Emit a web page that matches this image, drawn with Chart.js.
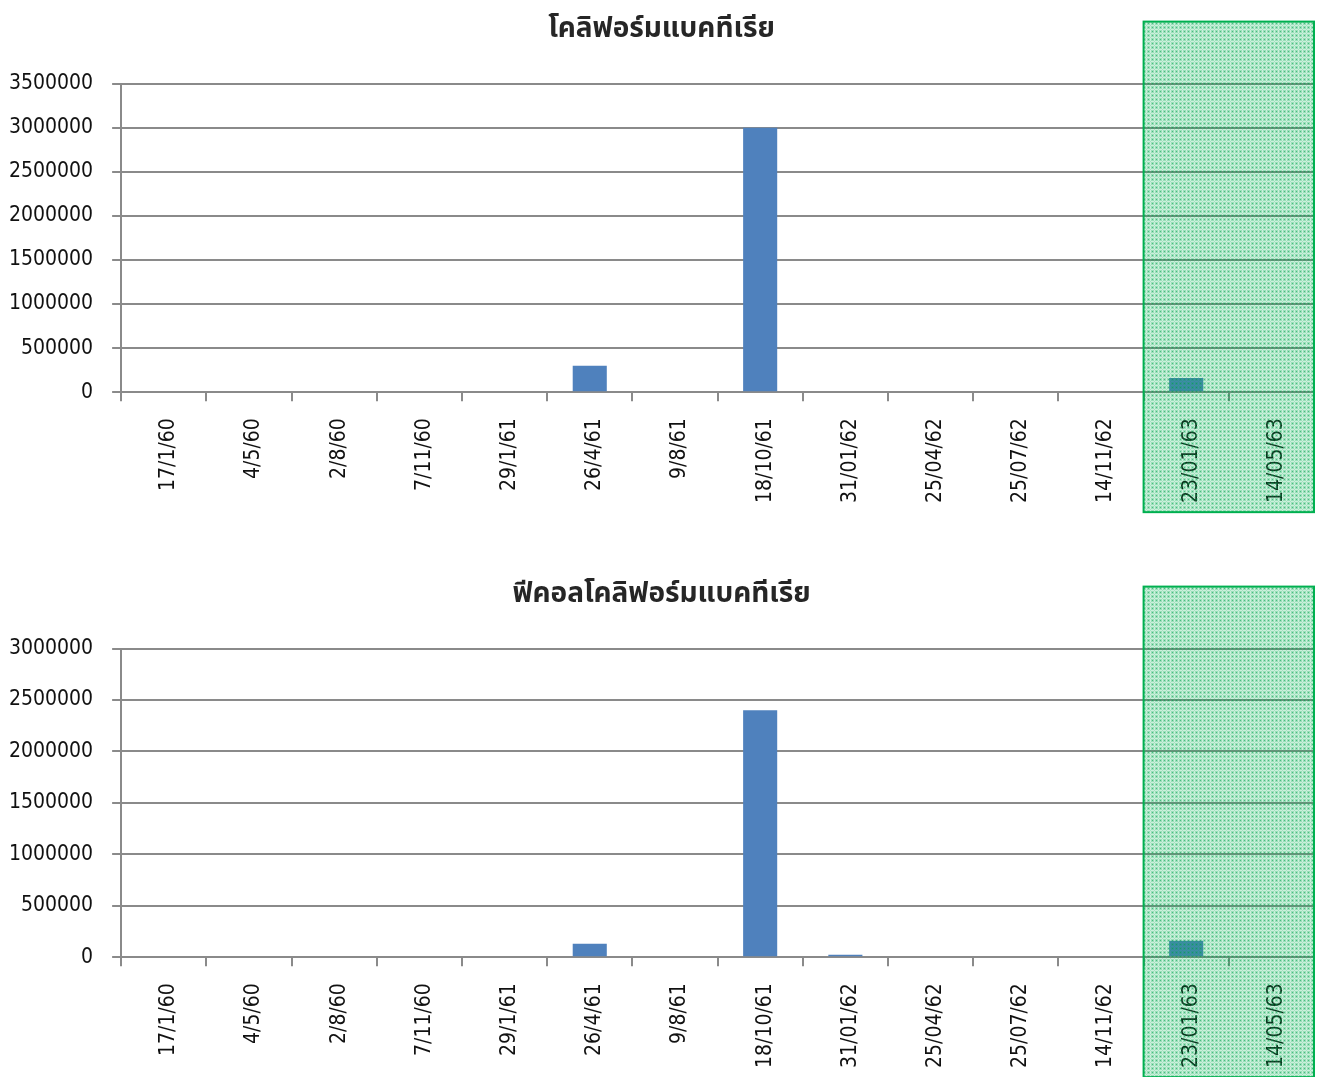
<!DOCTYPE html>
<html>
<head>
<meta charset="utf-8">
<script src="https://cdn.jsdelivr.net/npm/chart.js@4/dist/chart.umd.min.js"></script>
<style>
  html, body { margin: 0; padding: 0; background: #fff; overflow: hidden; }
  .panel { position: absolute; left: 0; width: 1322px; height: 565px; }
  #p1 { top: 0; }
  #p2 { top: 565px; }
</style>
</head>
<body>
<div class="panel" id="p1"><canvas id="c1"></canvas></div>
<div class="panel" id="p2"><canvas id="c2"></canvas></div>
<script>
// Sampling dates (Thai Buddhist-era short years)
const dates = ['17/1/60', '4/5/60', '2/8/60', '7/11/60', '29/1/61', '26/4/61', '9/8/61',
               '18/10/61', '31/01/62', '25/04/62', '25/07/62', '14/11/62', '23/01/63', '14/05/63'];

// Total coliform bacteria (MPN/100 ml)
const totalColiform = [0, 0, 0, 0, 0, 300000, 0, 3000000, 11000, 0, 0, 0, 160000, 0];
// Fecal coliform bacteria (MPN/100 ml)
const fecalColiform = [0, 9000, 0, 0, 0, 130000, 0, 2400000, 24000, 0, 0, 0, 160000, 0];

const titleTotal = 'โคลิฟอร์มแบคทีเรีย';
const titleFecal = 'ฟีคอลโคลิฟอร์มแบคทีเรีย';

const yMaxTotal = 3500000;
const yMaxFecal = 3000000;
const yStep = 500000;

// First date of the highlighted (latest) period
const highlightFrom = '23/01/63';

const labelFont = { family: "'DejaVu Sans Condensed', 'DejaVu Sans', sans-serif", size: 21 };
const labelColor = '#111';
const gridColor = '#8a8a8a';

// Green checked tile used for the highlight box
function makeHatch(ctx) {
  const t = document.createElement('canvas');
  t.width = 4; t.height = 4;
  const g = t.getContext('2d');
  g.fillStyle = 'rgba(0,176,80,0.40)';
  g.fillRect(0, 0, 4, 4);
  g.clearRect(0, 1, 4, 1);
  g.clearRect(2, 0, 1, 4);
  g.fillStyle = 'rgba(0,176,80,0.20)';
  g.fillRect(0, 1, 4, 1);
  g.fillRect(2, 0, 1, 4);
  g.fillStyle = 'rgba(0,150,70,0.50)';
  g.fillRect(0, 3, 1, 1);
  return ctx.createPattern(t, 'repeat');
}

const highlightPlugin = {
  id: 'highlightBox',
  afterDraw(chart) {
    const { ctx, chartArea } = chart;
    const xs = chart.scales.x;
    const idx = dates.indexOf(highlightFrom);
    const half = (xs.getPixelForValue(1) - xs.getPixelForValue(0)) / 2;
    const left = xs.getPixelForValue(idx) - half;
    const right = xs.right;
    const top = chartArea.top - 62;
    const bottom = chartArea.bottom + 120;
    ctx.save();
    ctx.fillStyle = makeHatch(ctx);
    ctx.fillRect(left, top, right - left, bottom - top);
    ctx.strokeStyle = '#00b050';
    ctx.lineWidth = 2;
    ctx.strokeRect(left, top, right - left, bottom - top);
    ctx.restore();
  }
};

function buildChart(id, title, values, yMax) {
  return new Chart(document.getElementById(id), {
    type: 'bar',
    data: {
      labels: dates,
      datasets: [{
        data: values,
        backgroundColor: '#4f81bd',
        borderWidth: 0,
        barPercentage: 0.4,
        categoryPercentage: 1.0
      }]
    },
    options: {
      responsive: true,
      maintainAspectRatio: false,
      animation: false,
      layout: { padding: { left: 9, right: 8, top: 0, bottom: 45 } },
      plugins: {
        legend: { display: false },
        tooltip: { enabled: false },
        title: {
          display: true,
          text: title,
          color: '#262626',
          font: { family: "'Noto Sans Thai', Tahoma, 'DejaVu Sans', sans-serif", size: 28, weight: 'bold' },
          padding: { top: 15, bottom: 35 }
        }
      },
      scales: {
        x: {
          offset: true,
          border: { display: true, color: gridColor, width: 2 },
          grid: { offset: true, drawOnChartArea: false, drawTicks: true, tickLength: 9, color: gridColor, lineWidth: 2 },
          ticks: {
            autoSkip: false, maxRotation: 90, minRotation: 90,
            padding: 17, labelOffset: 5, color: labelColor, font: labelFont
          }
        },
        y: {
          min: 0, max: yMax,
          afterFit(s) { s.width -= 19; },
          border: { display: true, color: gridColor, width: 2 },
          grid: { color: gridColor, lineWidth: 2, drawTicks: true, tickLength: 9 },
          ticks: {
            stepSize: yStep, padding: 19, color: labelColor, font: labelFont,
            callback: v => String(v)
          }
        }
      }
    },
    plugins: [highlightPlugin]
  });
}

buildChart('c1', titleTotal, totalColiform, yMaxTotal);
buildChart('c2', titleFecal, fecalColiform, yMaxFecal);
</script>
</body>
</html>
